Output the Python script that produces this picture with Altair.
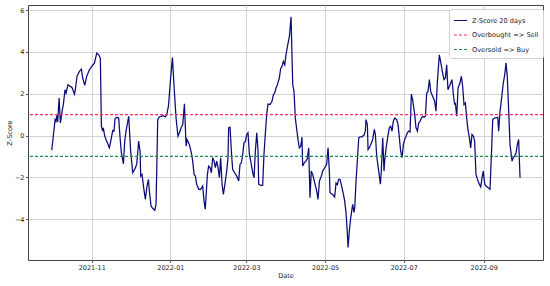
import altair as alt
import pandas as pd

# ---- data ----
start_date = "2021-10-01"
# day offsets from start_date and the Z-score values at those points
day_offsets = [
    0.0, 2.6, 3.3, 4.1, 4.6, 5.7, 6.7, 8.0, 9.0, 10.3, 11.1, 12.6, 14.2, 15.7, 17.6, 18.3, 19.6, 21.4, 23.0, 24.0,
    25.6, 27.1, 29.2, 31.3, 33.1, 34.9, 36.4, 37.7, 38.5, 39.5, 40.0, 41.1, 42.1, 43.7, 44.7, 46.0, 47.3, 48.3, 49.1, 50.4,
    51.9, 53.0, 54.0, 55.6, 56.6,
    57.6, 59.7, 61.2, 62.8, 64.3, 65.9, 67.4, 68.5, 69.0, 70.0, 71.1, 72.6, 73.9, 75.0, 75.7, 77.0, 78.3, 79.9, 80.9, 82.2,
    83.5, 85.0, 86.6, 88.1, 89.2, 90.5, 92.0, 93.6, 95.1, 96.4, 97.9, 99.0, 100.3, 101.6, 102.9, 104.2, 104.9, 106.7, 108.3, 109.3,
    110.4, 111.4, 112.4, 114.0, 115.5, 117.1, 118.1, 119.1,
    120.7, 121.7, 122.8, 123.8, 124.8, 125.9, 126.9, 127.9, 129.0, 130.0, 131.0, 132.1, 133.1, 134.1, 135.7, 136.7, 137.2, 138.3,
    139.3, 140.3, 141.9, 143.4, 145.0, 146.0, 147.1, 148.1, 149.1, 150.2, 151.2, 152.2, 153.3, 154.3, 155.9, 156.9, 157.9, 159.0,
    160.0, 160.5, 162.1, 163.6, 164.6, 165.7, 166.7, 167.7, 169.3, 170.8, 171.9, 172.9, 173.9, 175.0, 176.5, 177.6, 178.6, 179.6,
    180.7, 181.7,
    183.0, 184.3, 185.6, 186.9, 187.9, 188.9, 190.0, 191.0, 192.0, 193.1, 194.1, 194.6, 195.9, 197.2, 198.2, 199.3, 200.3, 201.3,
    202.4, 203.9, 205.5, 206.5, 207.6, 209.1, 210.1, 211.7, 213.2, 214.3, 215.3, 215.8, 216.9, 217.9, 219.4, 220.5, 221.5, 222.5,
    223.6, 224.6, 226.2, 227.2, 228.2, 229.3, 229.8, 230.8, 231.9, 233.4, 234.4, 235.0, 236.0, 237.0, 238.1, 239.1, 240.6, 242.2,
    243.2,
    243.7, 244.8, 245.3, 246.3, 247.4, 248.9, 250.2, 251.0, 252.0, 253.6, 254.9, 255.6, 256.7, 257.7, 258.2, 259.3, 260.5, 261.8,
    262.9, 263.9, 264.9, 266.0, 267.5, 268.6, 269.6, 270.6, 271.7, 272.7, 273.7, 274.8, 275.8, 276.8, 277.9, 278.9, 279.9, 281.5,
    282.5, 283.6, 284.6, 285.6, 286.7, 287.7, 288.7, 289.8, 290.8, 291.8, 292.9, 293.9, 294.9, 296.0, 297.0, 298.0, 299.1, 300.6,
    301.6, 302.7, 304.2, 305.3, 306.3,
    307.3, 308.4, 309.4, 310.4, 311.5, 312.5, 313.0, 314.1, 315.1, 316.6, 317.7, 318.7, 319.7, 320.8, 321.8, 322.8, 323.9, 324.9,
    325.9, 327.0, 328.0, 329.0, 330.6, 331.6, 332.7, 333.7, 334.7, 335.8, 336.8, 338.4, 339.9, 341.0, 342.0, 343.5, 344.6, 345.9,
    346.6, 347.7, 349.2, 350.2, 351.3, 352.3, 353.3, 354.4, 355.4, 357.0, 358.0, 359.0, 360.1, 361.1, 362.1, 363.2,
]
zscore = [
    -0.70, 0.76, 0.68, 1.00, 0.65, 1.79, 0.60, 1.16, 1.48, 2.19, 2.03, 2.43, 2.35, 2.30, 1.98, 2.19, 2.83, 3.06, 3.17, 2.75,
    2.40, 2.83, 3.14, 3.33, 3.46, 3.94, 3.86, 3.70, 0.44, 0.21, 0.37, -0.03, -0.19, -0.43, -0.59, -0.19, 0.24, 0.21, 0.81, 0.87,
    0.84, -0.11, -0.83, -1.35, -0.27,
    0.21, 0.92, -0.75, -1.78, -1.62, -1.38, -0.27, -0.75, -1.94, -1.86, -2.41, -3.05, -2.41, -2.10, -2.65, -3.37, -3.48, -3.57, -3.29, 0.76,
    0.89, 0.92, 0.95, 0.89, 1.00, 1.40, 2.59, 3.73, 2.11, 0.84, -0.03, 0.13, 0.37, 0.52, 1.52, -0.51, -0.19, -0.43, -0.83, -1.22,
    -1.86, -1.94, -2.33, -2.57, -2.57, -2.41, -3.13, -3.52,
    -1.86, -1.46, -1.54, -1.78, -1.06, -1.22, -1.54, -1.22, -1.54, -2.02, -1.06, -2.33, -2.81, -2.41, -1.70, -1.06, 0.37, 0.40,
    -0.75, -1.62, -1.78, -1.94, -2.17, -1.38, -1.30, -0.90, -0.35, -0.27, 0.05, 0.13, -0.90, -1.22, -1.78, -2.02, -0.75, 0.13,
    -0.75, -2.33, -2.38, -2.38, -0.90, 0.13, 1.00, 1.51, 1.48, 1.63, 1.95, 2.03, 2.27, 2.43, 2.75, 3.22, 3.30, 3.54,
    3.38, 3.86,
    4.33, 4.73, 5.68, 2.43, 2.11, 0.84, 0.29, -0.19, -0.59, -0.51, -0.08, -1.46, -1.30, -1.22, -1.10, -0.59, -2.97, -1.70,
    -1.86, -2.25, -2.65, -3.05, -2.17, -1.94, -1.70, -1.54, -1.38, -0.59, -1.70, -2.73, -2.78, -2.81, -2.94, -2.27, -2.35, -2.10,
    -2.10, -2.35, -2.81, -3.13, -3.68, -4.71, -5.35, -4.56, -3.92, -3.29, -3.68, -3.44, -2.17, -1.22, -0.11, -0.06, -0.06, 0.02,
    0.21,
    0.76, 0.52, -0.67, -0.59, -0.43, -0.19, 0.29, 0.05, -0.98, -1.70, -2.33, -1.70, -0.11, -1.70, -1.22, -0.59, -0.11, 0.37,
    0.44, 0.21, 0.68, 0.84, 0.76, 0.52, -0.11, -0.75, -1.06, -0.43, -0.19, -0.03, 0.13, 0.21, 0.17, 1.98, 1.71, 1.00,
    0.37, 0.21, 0.60, 0.68, 0.84, 0.92, 0.87, 0.92, 2.03, 2.11, 2.67, 2.11, 1.95, 1.79, 1.63, 1.16, 2.59, 3.86,
    3.54, 3.14, 2.67, 2.75, 3.38,
    2.19, 2.35, 2.51, 2.67, 1.95, 1.48, 1.56, 0.92, 2.27, 2.51, 2.83, 2.35, 1.48, 1.56, 0.84, 0.29, -0.11, -0.59,
    0.05, -0.03, -0.27, -1.86, -2.17, -2.33, -2.46, -2.02, -1.70, -2.33, -2.41, -2.49, -2.57, -0.90, 0.76, 0.84, 0.84, 0.87,
    0.21, 1.16, 1.95, 2.51, 2.90, 3.46, 2.83, 1.16, -0.43, -1.22, -1.06, -0.98, -0.83, -0.43, -0.19, -2.02,
]
overbought_level = 1.0
oversold_level = -1.0
series_names = ["Z-Score 20 days", "Overbought => Sell", "Oversold => Buy"]
series_colors = ["#0b0b78", "#ff2a62", "#1f8a50"]
series_dashes = [[1, 0], [3, 2], [3, 2]]
y_ticks = [-4, -2, 0, 2, 4, 6]
x_tick_months = [(2021, 11), (2022, 1), (2022, 3), (2022, 5), (2022, 7), (2022, 9)]

# ---- tables ----
line_df = pd.DataFrame({
    "Date": pd.Timestamp(start_date) + pd.to_timedelta(day_offsets, unit="D"),
    "Z": zscore,
    "series": series_names[0],
})
level_df = pd.DataFrame({"Z": [overbought_level, oversold_level], "series": series_names[1:]})

FONT = "DejaVu Sans"
legend = alt.Legend(
    title=None, orient="none", legendX=421, legendY=4,
    fillColor="white", strokeColor="#d0d0d0", padding=4, cornerRadius=2,
    labelFont=FONT, labelFontSize=6.6, labelColor="#222", labelLimit=300,
    symbolType="stroke", symbolSize=170, symbolStrokeWidth=1.2, rowPadding=2.5,
)
color = alt.Color("series:N", scale=alt.Scale(domain=series_names, range=series_colors), legend=legend)
dash = alt.StrokeDash("series:N", scale=alt.Scale(domain=series_names, range=series_dashes), legend=legend)

x_scale = alt.Scale(domain=[alt.DateTime(year=2021, month=9, date=12, hours=14),
                            alt.DateTime(year=2022, month=10, date=17)])
y_scale = alt.Scale(domain=[-5.95, 6.24], nice=False, zero=False)

x_axis = alt.Axis(
    values=[alt.DateTime(year=y, month=m, date=1) for y, m in x_tick_months],
    format="%Y-%m", title="Date", grid=True, labelAngle=0,
)
y_axis = alt.Axis(values=y_ticks, title="Z-Score", grid=True)

line = alt.Chart(line_df).mark_line(strokeWidth=1.25).encode(
    x=alt.X("Date:T", scale=x_scale, axis=x_axis),
    y=alt.Y("Z:Q", scale=y_scale, axis=y_axis),
    color=color, strokeDash=dash,
)
levels = alt.Chart(level_df).mark_rule(strokeWidth=1.2).encode(
    y=alt.Y("Z:Q", scale=y_scale),
    color=color, strokeDash=dash,
)

chart = (
    alt.layer(line, levels)
    .properties(width=515, height=255, padding={"left": 28, "top": 5, "right": 7, "bottom": 26}, autosize="none")
    .configure(font=FONT)
    .configure_view(stroke="#444", strokeWidth=1)
    .configure_axis(
        domain=False, gridColor="#c8c8c8", gridWidth=0.8,
        tickSize=2.5, tickColor="#333", tickWidth=0.8,
        labelFont=FONT, labelFontSize=6.5, labelColor="#222", labelPadding=1.5,
        titleFont=FONT, titleFontSize=6.6, titleFontWeight="normal", titleColor="#222",
    )
    .configure_axisY(titlePadding=2)
    .configure_axisX(titlePadding=2)
)

chart.save("out.html", embed_options={"renderer": "svg", "actions": False})
